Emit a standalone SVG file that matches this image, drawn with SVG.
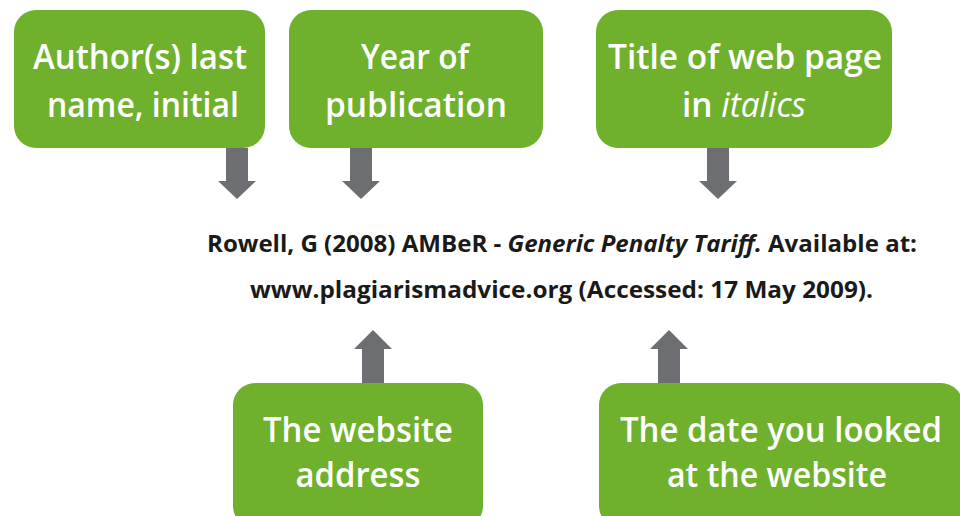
<svg xmlns="http://www.w3.org/2000/svg" width="960" height="516" viewBox="0 0 960 516">
<style>
.box{fill:#6fb12d}
.lbl{font-family:"Open Sans","Noto Sans",sans-serif;font-weight:600;font-size:34px;fill:#ffffff;text-anchor:middle}
.cite{font-family:"Open Sans","Noto Sans",sans-serif;font-weight:700;font-size:23.5px;fill:#1a1a1a}
.arr{fill:#6d6e71}
.it{font-style:italic}
.itl{font-style:italic;font-weight:400}
</style>
<rect width="960" height="516" fill="#ffffff"/>
<g id="connectors">
<path class="arr" d="M226 148 H248 V181 H256 L237 199 L218 181 H226 Z"/>
<path class="arr" d="M350 148 H372 V181 H380 L361 199 L342 181 H350 Z"/>
<path class="arr" d="M707 148 H729 V181 H737 L718 199 L699 181 H707 Z"/>
<path class="arr" d="M362 383 H384 V349 H392 L373 330 L354 349 H362 Z"/>
<path class="arr" d="M658 383 H680 V349 H688 L669 330 L650 349 H658 Z"/>
</g>
<g id="citation">
<text class="cite" x="207" y="252" textLength="710" lengthAdjust="spacingAndGlyphs">Rowell, G (2008) AMBeR - <tspan class="it">Generic Penalty Tariff.</tspan> Available at:</text>
<text class="cite" x="250" y="298" textLength="623" lengthAdjust="spacingAndGlyphs">www.plagiarismadvice.org (Accessed: 17 May 2009).</text>
</g>
<g id="author">
<rect class="box" x="14" y="10" width="251" height="138" rx="22"/>
<text class="lbl" x="140" y="69" textLength="214" lengthAdjust="spacingAndGlyphs">Author(s) last</text>
<text class="lbl" x="143" y="117" textLength="192" lengthAdjust="spacingAndGlyphs">name, initial</text>
</g>
<g id="year">
<rect class="box" x="289" y="10" width="254" height="138" rx="22"/>
<text class="lbl" x="415" y="69" textLength="108" lengthAdjust="spacingAndGlyphs">Year of</text>
<text class="lbl" x="416" y="117" textLength="182" lengthAdjust="spacingAndGlyphs">publication</text>
</g>
<g id="title">
<rect class="box" x="596" y="10" width="296" height="138" rx="22"/>
<text class="lbl" x="745" y="69" textLength="274" lengthAdjust="spacingAndGlyphs">Title of web page</text>
<text class="lbl" x="744" y="117" textLength="124" lengthAdjust="spacingAndGlyphs">in <tspan class="itl">italics</tspan></text>
</g>
<g id="website">
<rect class="box" x="233" y="383" width="250" height="145" rx="22"/>
<text class="lbl" x="358" y="442" textLength="190" lengthAdjust="spacingAndGlyphs">The website</text>
<text class="lbl" x="358" y="487" textLength="125" lengthAdjust="spacingAndGlyphs">address</text>
</g>
<g id="date">
<rect class="box" x="599" y="383" width="364" height="145" rx="22"/>
<text class="lbl" x="781" y="442" textLength="322" lengthAdjust="spacingAndGlyphs">The date you looked</text>
<text class="lbl" x="777" y="487" textLength="220" lengthAdjust="spacingAndGlyphs">at the website</text>
</g>
</svg>
